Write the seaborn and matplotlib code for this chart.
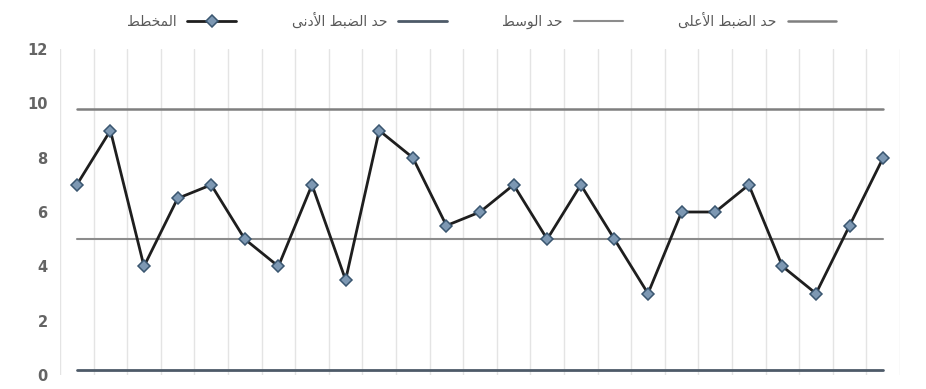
import matplotlib
matplotlib.use("Agg")
import matplotlib.pyplot as plt
import seaborn as sns
import numpy as np
import pandas as pd

# قيم المخطط
values = [7, 9, 4, 6.5, 7, 5, 4, 7, 3.5, 9, 8, 5.5, 6, 7, 5, 7, 5, 3, 6, 6, 7, 4, 3, 5.5, 8]
ucl = 9.8   # حد الضبط الأعلى
cl = 5      # حد الوسط
lcl = 0.2   # حد الضبط الأدنى
yticks = [0, 2, 4, 6, 8, 10, 12]

# arabic labels written with presentation forms in visual order (matplotlib has no shaping)
lbl_chart = "\ufec2\ufec4\ufea8\ufee4\ufedf\ufe8d"                      # المخطط
_dabt = "\ufec2\ufe92\ufec0\ufedf\ufe8d"                                # الضبط
_had = "\ufeaa\ufea3"                                                    # حد
lbl_lcl = "\ufef0\ufee7\ufea9\ufef7\ufe8d " + _dabt + " " + _had        # حد الضبط الأدنى
lbl_cl = "\ufec2\ufeb3\ufeee\ufedf\ufe8d " + _had                       # حد الوسط
lbl_ucl = "\ufef0\ufee0\ufecb\ufef7\ufe8d " + _dabt + " " + _had        # حد الضبط الأعلى

n = len(values)
df = pd.DataFrame({"x": np.arange(n), "v": values,
                   "ucl": [ucl] * n, "cl": [cl] * n, "lcl": [lcl] * n})

sns.set_style("white")
plt.rcParams["font.family"] = ["DejaVu Sans"]

fig = plt.figure(figsize=(9.26, 3.89), dpi=100)
ax = fig.add_axes([60 / 926, 14 / 389, 840 / 926, 326 / 389])

sns.lineplot(data=df, x="x", y="ucl", ax=ax, color="#7f7f7f", lw=1.8, label=lbl_ucl)
sns.lineplot(data=df, x="x", y="cl", ax=ax, color="#8c8c8c", lw=1.5, label=lbl_cl)
sns.lineplot(data=df, x="x", y="lcl", ax=ax, color="#4d5a68", lw=2, label=lbl_lcl)
sns.lineplot(data=df, x="x", y="v", ax=ax, color="#1e1e1e", lw=2, marker="D",
             markersize=6, markerfacecolor="#7d98b3", markeredgecolor="#3a5670",
             markeredgewidth=1.1, label=lbl_chart)

ax.set_xlim(-0.5, n - 0.5)
ax.set_ylim(0, 12)
ax.set_yticks(yticks)
ax.set_xticks(np.arange(-0.5, n, 1))
ax.set_xticklabels([])
ax.tick_params(axis="x", length=0)
ax.tick_params(axis="y", length=0, pad=9, labelsize=10.5, labelcolor="#646464")
for t in ax.get_yticklabels():
    t.set_fontweight("bold")
ax.grid(axis="x", color="#e4e4e4", lw=1)
ax.grid(axis="y", visible=False)
sns.despine(ax=ax, left=True, bottom=True)
ax.set_xlabel("")
ax.set_ylabel("")

handles, labels = ax.get_legend_handles_labels()
ax.get_legend().remove()
order = [3, 2, 1, 0]
fig.legend([handles[i] for i in order], [labels[i] for i in order], loc="upper center",
           bbox_to_anchor=(0.52, 1.0), ncol=4, frameon=False, markerfirst=False,
           fontsize=10, labelcolor="#595959", columnspacing=4, handlelength=3.5)

fig.savefig("out.png", dpi=100)
